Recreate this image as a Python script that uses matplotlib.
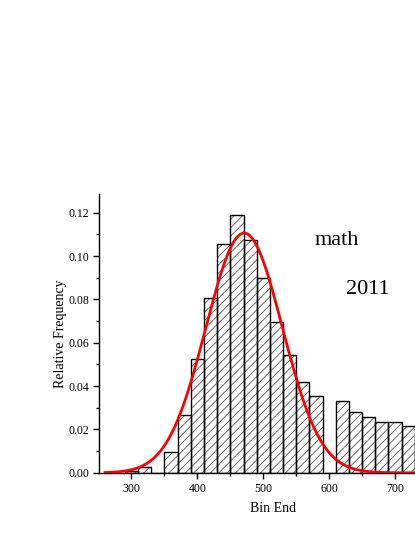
import numpy as np
import matplotlib
matplotlib.use('Agg')
import matplotlib.pyplot as plt

plt.rcParams['font.family'] = ['Liberation Serif', 'DejaVu Serif']

# histogram bins (start of each bin, width 20) and relative frequency
bin_start = [290, 310, 330, 350, 370, 390, 410, 430, 450, 470, 490, 510,
             530, 550, 570, 590, 610, 630, 650, 670, 690, 710, 730]
bin_width = 20
rel_freq = [0.0008, 0.0028, 0.0, 0.0094, 0.0265, 0.0526, 0.0805, 0.1056,
            0.1190, 0.1076, 0.0899, 0.0698, 0.0542, 0.0417, 0.0353, 0.0,
            0.0331, 0.0282, 0.0258, 0.0233, 0.0233, 0.0214, 0.0162]

# normal fit curve parameters
fit_mean = 471
fit_sd = 58
fit_peak = 0.1106
fit_range = (260, 790)

fig = plt.figure(figsize=(4.15, 5.37), dpi=100)
ax = fig.add_axes([0.239, 0.1195, 0.84, 0.5195])

# hatch layer (grey) then outline layer (black)
plt.rcParams['hatch.linewidth'] = 0.6
ax.bar(bin_start, rel_freq, width=bin_width, align='edge', color='white',
       edgecolor='#555555', hatch='////', linewidth=0)
ax.bar(bin_start, rel_freq, width=bin_width, align='edge', fill=False,
       edgecolor='black', linewidth=1.0)

xs = np.linspace(fit_range[0], fit_range[1], 400)
ys = fit_peak * np.exp(-(xs - fit_mean) ** 2 / (2 * fit_sd ** 2))
ax.plot(xs, ys, color='red', linewidth=2.0, zorder=5)

ax.set_xlim(251, 780)
ax.set_ylim(0, 0.1287)
ax.set_xticks([300, 400, 500, 600, 700])
ax.set_xticks([350, 450, 550, 650, 750], minor=True)
ax.set_yticks([0.0, 0.02, 0.04, 0.06, 0.08, 0.10, 0.12])
ax.set_yticks(np.arange(0.01, 0.125, 0.02), minor=True)
ax.set_yticklabels(['0.00', '0.02', '0.04', '0.06', '0.08', '0.10', '0.12'])

for side in ['top', 'right']:
    ax.spines[side].set_visible(False)
for side in ['left', 'bottom']:
    ax.spines[side].set_linewidth(1.0)
ax.tick_params(which='major', direction='out', length=4.3, width=1.0,
               labelsize=8.5, pad=3)
ax.tick_params(which='minor', direction='out', length=2.5, width=1.0)

ax.set_xlabel('Bin End', fontsize=10, labelpad=5)
ax.set_ylabel('Relative Frequency', fontsize=10, labelpad=1)

fig.text(315 / 415, 1 - 245 / 537, 'math', fontsize=16, ha='left', va='baseline')
fig.text(346 / 415, 1 - 294 / 537, '2011', fontsize=16, ha='left', va='baseline')

fig.savefig('out.png', dpi=100)
